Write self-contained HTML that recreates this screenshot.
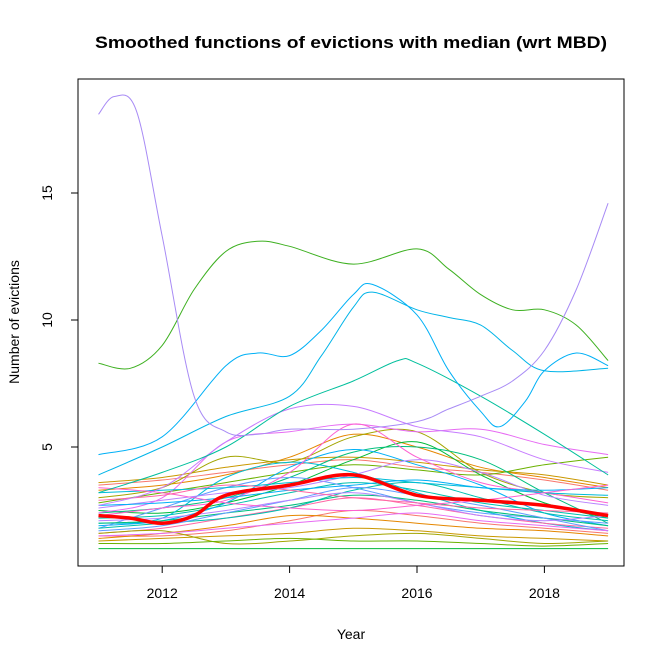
<!DOCTYPE html>
<html><head><meta charset="utf-8"><style>
html,body{margin:0;padding:0;background:#fff;}
svg{display:block;font-family:"Liberation Sans",Arial,sans-serif;}
</style></head><body>
<svg id="chart" width="664" height="664" viewBox="0 0 664 664">
<text x="351" y="48" text-anchor="middle" font-size="17" font-weight="bold" textLength="512" lengthAdjust="spacingAndGlyphs">Smoothed functions of evictions with median (wrt MBD)</text>
<rect x="78" y="79" width="546" height="487" fill="none" stroke="#000"/>
<g id="xaxis"></g>
<g id="yaxis"></g>
<g id="lines"></g>
<text x="351" y="639" text-anchor="middle" font-size="14">Year</text>
<text transform="translate(19,322) rotate(-90)" text-anchor="middle" font-size="14">Number of evictions</text>
</svg>
<script>
const xTicks=[2012,2014,2016,2018];
const yTicks=[5,10,15];
const Y9=[2011,2012,2013,2014,2015,2016,2017,2018,2019];
const bgColors=["#F8766D","#E58700","#C99800","#A3A500","#6BB100","#00BA38","#00BF7D","#00C0AF","#00BCD8","#00B0F6","#619CFF","#B983FF","#E76BF3","#FD61D1","#FF67A4"];
const bgValues=[
[3.5,3.7,4.0,4.3,4.5,4.2,4.0,3.7,3.3],
[3.3,3.5,3.9,4.6,5.5,5.0,4.2,3.8,3.4],
[3.6,3.8,4.2,4.5,4.6,4.4,4.1,3.9,3.5],
[3.0,3.4,4.6,4.4,5.4,5.6,4.0,3.2,3.0],
[2.8,3.2,3.6,4.0,4.3,4.1,3.9,4.3,4.6],
[2.5,2.4,2.8,3.5,4.5,5.2,3.9,2.8,2.2],
[2.4,2.6,3.0,3.8,4.8,5.0,4.5,3.2,2.0],
[2.2,2.3,2.7,3.2,3.6,3.3,2.8,2.5,2.2],
[2.0,2.2,3.8,4.4,4.0,3.2,2.5,2.0,1.7],
[1.9,2.1,2.8,4.2,4.9,4.3,3.5,2.4,1.9],
[1.8,2.6,3.4,3.8,3.4,2.8,2.4,2.2,2.0],
[2.6,2.9,3.2,3.4,3.9,4.5,4.0,3.1,2.7],
[2.4,3.0,5.2,5.6,5.9,5.6,5.7,5.1,4.7],
[2.3,2.6,2.9,4.0,5.9,4.6,3.6,3.2,2.8],
[1.6,1.8,2.2,2.6,3.0,2.7,2.3,2.0,1.8],
[1.5,1.5,1.7,2.1,2.5,2.3,2.0,1.8,1.6],
[1.4,1.6,1.9,2.3,2.2,2.0,1.8,1.7,1.5],
[1.3,1.4,1.5,1.6,1.8,1.7,1.5,1.4,1.3],
[1.6,1.7,1.2,1.3,1.5,1.6,1.4,1.2,1.3],
[1.2,1.2,1.3,1.4,1.3,1.3,1.2,1.1,1.2],
[1.0,1.0,1.0,1.0,1.0,1.0,1.0,1.0,1.0],
[2.0,2.1,2.4,2.7,3.1,2.9,2.5,2.2,1.9],
[1.8,2.0,2.2,2.6,3.3,3.6,3.0,2.4,2.1],
[3.2,3.3,3.4,3.6,3.8,3.6,3.4,3.2,3.1],
[2.7,2.8,3.0,3.3,3.5,3.7,3.4,3.3,3.4],
[1.7,1.9,2.4,2.9,3.4,3.1,2.7,2.2,1.7],
[2.1,2.2,2.5,2.9,3.2,2.8,2.3,2.1,2.3],
[1.5,1.6,1.8,2.0,2.2,2.4,2.1,1.9,1.7],
[3.4,3.2,2.8,2.6,2.5,2.7,2.9,3.2,3.5],
[2.9,3.1,3.5,3.3,3.0,2.8,2.6,2.5,2.4]
];
const purpleYears=[2011,2011.25,2011.6,2012,2012.5,2013,2013.5,2014,2015,2016,2016.5,2017,2017.5,2018,2018.5,2019];
const purpleValues=[18.1,18.8,18.2,13.3,7.0,5.6,5.5,5.7,5.7,6.0,6.5,7.0,7.6,8.8,11.2,14.6];
const greenYears=[2011,2011.5,2012,2012.5,2013,2013.5,2014,2015,2016,2016.5,2017,2017.5,2018,2018.5,2019];
const greenValues=[8.3,8.1,9.0,11.2,12.7,13.1,12.9,12.2,12.8,12.0,11.0,10.4,10.4,9.8,8.4];
const blue1Years=[2011,2012,2013,2013.5,2014,2014.5,2015,2015.3,2016,2016.5,2017,2017.3,2017.7,2018,2018.5,2019];
const blue1Values=[4.7,5.4,8.2,8.7,8.6,9.6,11.0,11.4,10.2,8.0,6.4,5.8,6.8,8.0,8.7,8.2];
const blue2Years=[2011,2012,2013,2014,2014.5,2015,2015.3,2016,2016.5,2017,2017.5,2018,2019];
const blue2Values=[3.9,5.0,6.2,7.0,8.6,10.5,11.1,10.4,10.1,9.8,8.8,8.0,8.1];
const tealYears=[2011,2012,2013,2014,2015,2015.7,2016,2017,2018,2019];
const tealValues=[3.2,4.0,5.0,6.6,7.6,8.4,8.3,7.0,5.5,3.9];
const lavYears=[2011,2012,2013,2014,2015,2016,2017,2018,2019];
const lavValues=[2.7,3.4,5.2,6.5,6.6,5.8,5.4,4.5,4.0];
const medianYears=[2011,2011.5,2012,2012.5,2013,2014,2015,2016,2017,2018,2019];
const medianValues=[2.3,2.2,2.0,2.3,3.1,3.5,3.9,3.1,2.9,2.7,2.3];

const X=v=>98.5+(v-2011)*63.7;
const Yf=v=>548.6-(v-1)*25.4;
const NS="http://www.w3.org/2000/svg";
function mk(tag,attrs,parent){const e=document.createElementNS(NS,tag);for(const k in attrs)e.setAttribute(k,attrs[k]);parent.appendChild(e);return e;}
function pathD(xs,vs){
  const p=xs.map((x,i)=>[X(x),Yf(vs[i])]);
  let d="M"+p[0][0].toFixed(1)+","+p[0][1].toFixed(1);
  for(let i=0;i<p.length-1;i++){
    const p0=p[i-1]||p[i],p1=p[i],p2=p[i+1],p3=p[i+2]||p2;
    const c1=[p1[0]+(p2[0]-p0[0])/6,p1[1]+(p2[1]-p0[1])/6];
    const c2=[p2[0]-(p3[0]-p1[0])/6,p2[1]-(p3[1]-p1[1])/6];
    d+="C"+c1.map(n=>n.toFixed(1))+" "+c2.map(n=>n.toFixed(1))+" "+p2.map(n=>n.toFixed(1));
  }
  return d;
}
const xa=document.getElementById('xaxis'),ya=document.getElementById('yaxis'),lg=document.getElementById('lines');
mk('line',{x1:X(2012),x2:X(2018),y1:566,y2:566,stroke:'#000'},xa);
xTicks.forEach(t=>{
  mk('line',{x1:X(t),x2:X(t),y1:566,y2:573,stroke:'#000'},xa);
  const tx=mk('text',{x:X(t),y:598,'text-anchor':'middle','font-size':14},xa);tx.textContent=t;
  
  
});
mk('line',{x1:78,x2:78,y1:Yf(5),y2:Yf(15),stroke:'#000'},ya);
yTicks.forEach(t=>{
  mk('line',{x1:71,x2:78,y1:Yf(t),y2:Yf(t),stroke:'#000'},ya);
  const tx=mk('text',{transform:`translate(52,${Yf(t)}) rotate(-90)`,'text-anchor':'middle','font-size':14},ya);tx.textContent=t;
  
  
});
bgValues.forEach((vs,i)=>{
  const e=mk('path',{d:pathD(Y9,vs),fill:'none',stroke:bgColors[i%bgColors.length],'stroke-width':1},lg);
  
  
});
const mains=[[lavYears,lavValues,'#C77CFF'],[tealYears,tealValues,'#00BF9C'],[blue2Years,blue2Values,'#00B4E8'],[blue1Years,blue1Values,'#00B0F6'],[greenYears,greenValues,'#3DB020'],[purpleYears,purpleValues,'#A88BF5']];
mains.forEach(m=>{
  const e=mk('path',{d:pathD(m[0],m[1]),fill:'none',stroke:m[2],'stroke-width':1},lg);
  
  
});
const med=mk('path',{d:pathD(medianYears,medianValues),fill:'none',stroke:'#FF0000','stroke-width':3.5},lg);


</script>
</body></html>
